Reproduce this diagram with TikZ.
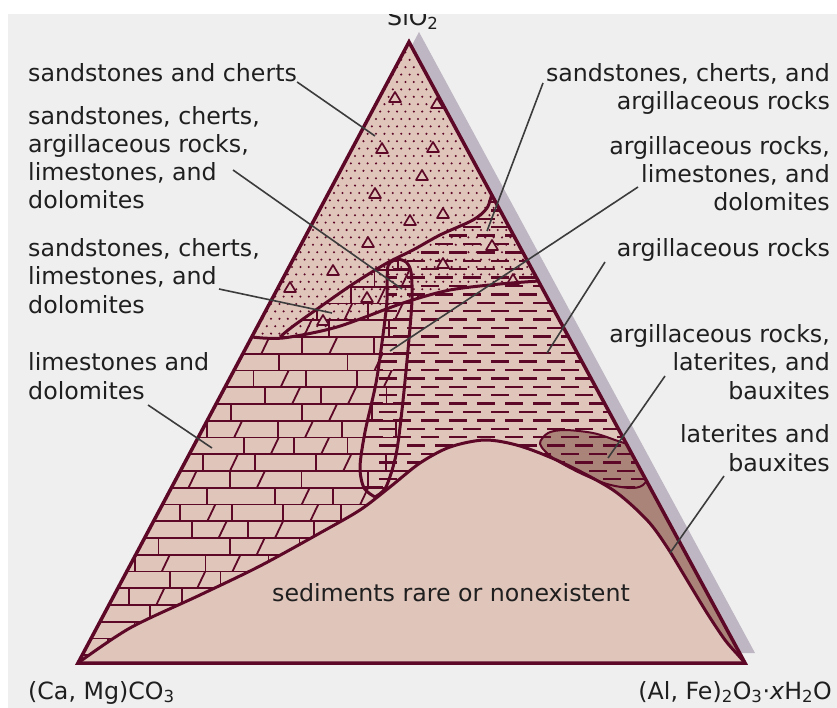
\documentclass[tikz,border=0pt]{standalone}
\usepackage{fontspec}
\setmainfont{DejaVu Sans}
\definecolor{rockpink}{RGB}{224,197,187}
\definecolor{laterite}{RGB}{170,132,120}
\definecolor{maroon}{RGB}{92,8,38}
\definecolor{shadowgray}{RGB}{190,182,194}
\definecolor{paper}{RGB}{239,239,239}
\definecolor{leadgray}{RGB}{60,60,60}

\begin{document}
\begin{tikzpicture}[x=1pt,y=-1pt,
  bound/.style={draw=maroon, line width=3pt, line join=round},
  lab/.style={inner sep=0pt, font=\fontsize{23.7pt}{28.3pt}\selectfont, text=black!88},
  leader/.style={draw=leadgray, line width=1.6pt},
  brickline/.style={draw=maroon, line width=1.8pt},
  dashrow/.style={draw=maroon, line width=2.4pt, dash pattern=on 18pt off 10pt}]
\useasboundingbox (0,0) rectangle (837,708);
\fill[white] (0,0) rectangle (837,708);
\fill[paper] (8,14) rectangle (837,708);

\coordinate (A) at (409,42);
\coordinate (L) at (78,663);
\coordinate (R) at (745,663);

\fill[shadowgray] ([shift={(10,-10)}]A) -- ([shift={(10,-10)}]L) -- ([shift={(10,-10)}]R) -- cycle;
\fill[rockpink] (A) -- (L) -- (R) -- cycle;

\begin{scope}
\clip (A) -- (L) -- (R) -- cycle;
\fill[laterite] plot[smooth cycle] coordinates {(540,444) (548,433) (565,430) (593,433) (615,440) (640,450) (652,470) (643,485) (630,488) (607,484) (580,473) (553,458)};

\begin{scope}
\clip (A) -- (252,337) -- plot[smooth] coordinates {(252,337) (283,338) (337,327) (403,303) (450,290) (500,284) (539,281)} -- cycle;
\foreach \r in {0,...,40} {
  \foreach \c in {0,...,36} {
    \fill[maroon] ({250+8.4*\c+4.2*mod(\r,2)},{45+7.4*\r}) circle (1.15pt);
  }
}
\end{scope}

\begin{scope}
\clip (60,700) -- (252,337) -- (280,337) -- plot[smooth] coordinates {(280,337) (292,327) (320,307) (353,284) (387,263) (398,259)} -- plot[smooth] coordinates {(398,259) (406,262) (411,272) (412,300) (408,350) (402,410) (396,455) (386,487) (375,497)} -- (375,700) -- cycle;
\foreach \r in {0,...,25} {
  \pgfmathsetmacro\yr{253.25+16.75*\r}
  \pgfmathsetmacro\off{mod(\r*29,61)}
  \draw[brickline] (60,\yr) -- (420,\yr);
  \foreach \k in {0,...,6} {
    \pgfmathsetmacro\xv{40+\off+61*\k+12*sin(\r*97+\k*53)}
    \pgfmathtruncatemacro\sl{mod(\r+2*\k,3)}
    \draw[brickline] (\xv,\yr) -- (\xv,\yr+16.75);
    \ifnum\sl>0
      \draw[brickline] (\xv+27,\yr+16.75) -- (\xv+35,\yr);
    \fi
  }
}
\end{scope}

\begin{scope}
\clip (492,193) -- plot[smooth] coordinates {(492,193) (487,208) (473,220) (440,235) (413,250) (398,259)} -- plot[smooth] coordinates {(398,259) (388,266) (387,300) (383,335) (376,383) (365,432) (360,467) (364,488) (375,497)} -- (375,700) -- (800,700) -- (800,100) -- cycle;
\foreach \r in {0,...,36} {
  \draw[dashrow] ({365+14*mod(\r,2)},{202+8.4*\r}) -- (660,{202+8.4*\r});
}
\end{scope}

\foreach \tx/\ty in {395/97, 437/103, 382/148, 433/147, 422/175, 375/193, 410/220, 443/213, 368/242, 333/270, 290/287, 492/245, 443/263, 367/297, 323/320, 513/279} {
  \filldraw[fill=rockpink, draw=maroon, line width=1.7pt, line join=round] (\tx-6,\ty+5) -- (\tx,\ty-5) -- (\tx+6,\ty+5) -- cycle;
}

\fill[laterite] plot[smooth] coordinates {(553,458) (580,473) (607,484) (630,488) (643,485)} -- (660,480) -- (760,670) -- (553,670) -- cycle;
\fill[rockpink] plot[smooth] coordinates {(78,663) (130,628) (200,595) (260,566) (320,533) (360,510) (390,487) (420,463) (450,447) (485,440) (520,446) (563,463) (613,490) (647,520) (667,547) (687,580) (707,613) (725,640) (738,655) (745,663)} -- cycle;

\draw[maroon, line width=2pt] plot[smooth cycle] coordinates {(540,444) (548,433) (565,430) (593,433) (615,440) (640,450) (652,470) (643,485) (630,488) (607,484) (580,473) (553,458)};
\draw[bound] plot[smooth] coordinates {(78,663) (130,628) (200,595) (260,566) (320,533) (360,510) (390,487) (420,463) (450,447) (485,440) (520,446) (563,463) (613,490) (647,520) (667,547) (687,580) (707,613) (725,640) (738,655) (745,663)};
\draw[bound] plot[smooth] coordinates {(252,337) (283,338) (337,327) (403,303) (450,290) (500,284) (539,281)};
\draw[bound] plot[smooth] coordinates {(280,337) (292,327) (320,307) (353,284) (387,263) (413,250) (440,235) (473,220) (487,208) (492,193)};
\draw[bound] plot[smooth] coordinates {(398,259) (388,266) (387,300) (383,335) (376,383) (365,432) (360,467) (364,488) (375,497)};
\draw[bound] plot[smooth] coordinates {(398,259) (406,262) (411,272) (412,300) (408,350) (402,410) (396,455) (386,487) (375,497)};
\end{scope}

\draw[bound, line width=3.5pt, line join=miter] (A) -- (L) -- (R) -- cycle;

\node[lab, anchor=base west] (lSC) at (28,82) {sandstones and cherts};
\node[lab, anchor=base west, align=left] (lSCALD) at (28,209) {sandstones, cherts,\\argillaceous rocks,\\limestones, and\\dolomites};
\node[lab, anchor=base west, align=left] (lSCLD) at (28,313) {sandstones, cherts,\\limestones, and\\dolomites};
\node[lab, anchor=base west, align=left] (lLD) at (28,399) {limestones and\\dolomites};
\node[lab, anchor=base east, align=right] (lSCA) at (830,110) {sandstones, cherts, and\\argillaceous rocks};
\node[lab, anchor=base east, align=right] (lALD) at (830,211) {argillaceous rocks,\\limestones, and\\dolomites};
\node[lab, anchor=base east] (lA) at (830,257) {argillaceous rocks};
\node[lab, anchor=base east, align=right] (lALB) at (830,399) {argillaceous rocks,\\laterites, and\\bauxites};
\node[lab, anchor=base east, align=right] (lLB) at (830,471) {laterites and\\bauxites};
\node[lab, anchor=base] (lSed) at (451,601) {sediments rare or nonexistent};
\node[lab, anchor=base west] (lCarb) at (28,699) {(Ca, Mg)CO\textsubscript{3}};
\node[lab, anchor=base east] (lAlum) at (832,699) {(Al, Fe)\textsubscript{2}O\textsubscript{3}·\textit{x}H\textsubscript{2}O};
\node[lab, anchor=base west] (lSi) at (387,26) {SiO\textsubscript{2}};

\coordinate (eSC) at (375,136);
\coordinate (sSCALD) at (233,170);
\coordinate (eSCALD) at (402,289);
\coordinate (sSCLD) at (219,289);
\coordinate (eSCLD) at (332,313);
\coordinate (sLD) at (148,405);
\coordinate (eLD) at (212,448);
\coordinate (sSCA) at (543,83);
\coordinate (eSCA) at (487,231);
\coordinate (sALD) at (638,187);
\coordinate (eALD) at (390,351);
\coordinate (sA) at (605,262);
\coordinate (eA) at (547,353);
\coordinate (sALB) at (665,376);
\coordinate (eALB) at (608,458);
\coordinate (sLB) at (724,476);
\coordinate (eLB) at (670,553);

\draw[leader] (lSC.base east) -- (eSC);
\draw[leader] (sSCALD) -- (eSCALD);
\draw[leader] (sSCLD) -- (eSCLD);
\draw[leader] (sLD) -- (eLD);
\draw[leader] (sSCA) -- (eSCA);
\draw[leader] (sALD) -- (eALD);
\draw[leader] (sA) -- (eA);
\draw[leader] (sALB) -- (eALB);
\draw[leader] (sLB) -- (eLB);

\fill[white] (0,0) rectangle (837,14);
\end{tikzpicture}
\end{document}
